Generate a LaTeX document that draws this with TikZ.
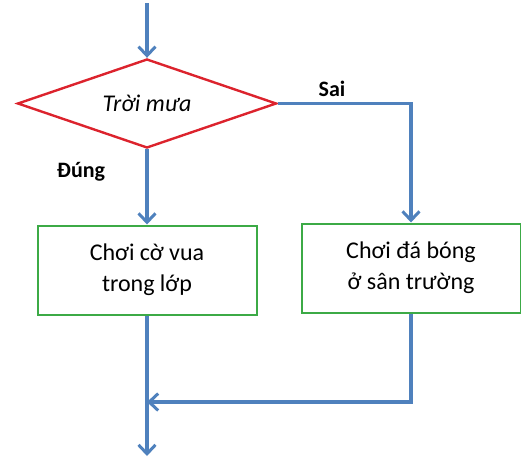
\documentclass[tikz,border=0pt]{standalone}
\usepackage{fontspec}
\setmainfont{Carlito}
\usetikzlibrary{arrows.meta,shapes.geometric,positioning}

\definecolor{flowblue}{RGB}{79,129,189}
\definecolor{condred}{RGB}{220,35,45}
\definecolor{boxgreen}{RGB}{60,170,70}

\begin{document}
\begin{tikzpicture}[
  x=1pt,y=-1pt,
  font=\fontsize{24}{31}\selectfont,
  cond/.style={draw=condred,diamond,aspect=2.9,line width=2.4pt,minimum width=259pt,minimum height=89pt,inner sep=0pt,font=\fontsize{24}{31}\selectfont\itshape},
  action/.style={draw=boxgreen,line width=2pt,minimum width=219pt,minimum height=89pt,align=center},
  flow/.style={draw=flowblue,line width=3.8pt,-{Straight Barb[length=9pt,width=17pt,line width=3pt]}},
  link/.style={draw=flowblue,line width=3.8pt},
  tag/.style={font=\fontsize{22}{26}\selectfont\bfseries}
]
  \useasboundingbox (0,0) rectangle (521,458);

  \coordinate (start) at (147,3);
  \node[cond] (rain) at (147,103.5) {Trời mưa};
  \node[action] (chess) at (147,270) {Chơi cờ vua\\trong lớp};
  \node[action] (ball) at (411,268) {Chơi đá bóng\\ở sân trường};
  \coordinate (join) at (147,402);
  \coordinate (finish) at (147,456);

  \node[tag] (no) at (332,89) {Sai};
  \node[tag] (yes) at (81,172) {Đúng};

  \draw[flow] (start) -- (rain.north);
  \draw[flow] (rain.south) -- (chess.north);
  \draw[flow] (rain.east) -| (ball.north);
  \draw[link] (chess.south) -- (join);
  \draw[flow] (ball.south) |- (join);
  \draw[flow] (join) -- (finish);
\end{tikzpicture}
\end{document}
